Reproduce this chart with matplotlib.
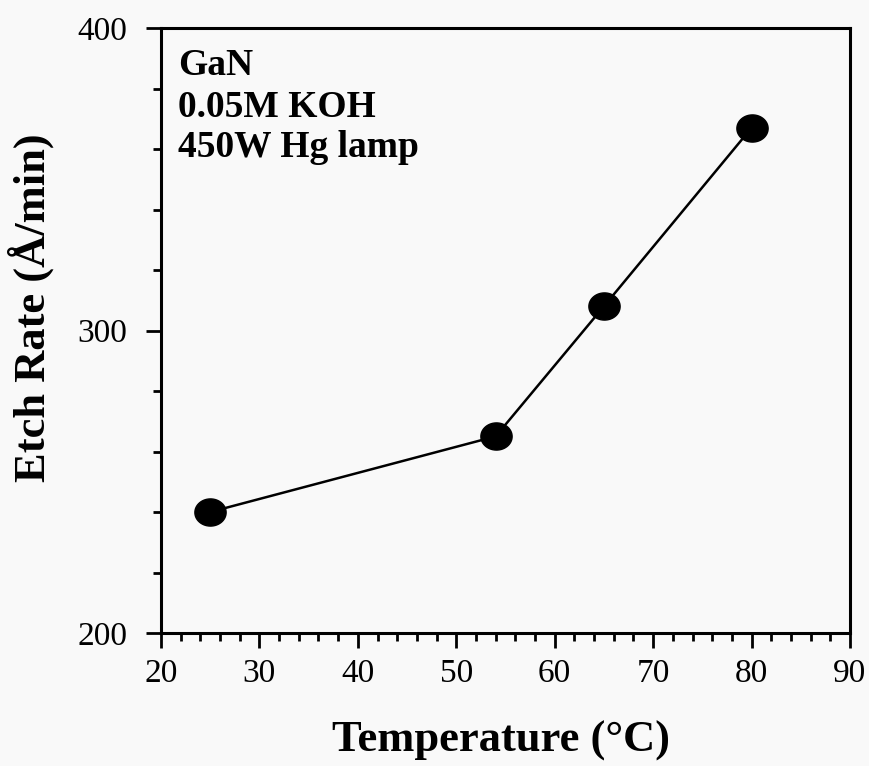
import numpy as np
import matplotlib
matplotlib.use("Agg")
import matplotlib.pyplot as plt
from matplotlib.path import Path
from matplotlib.ticker import MultipleLocator

# Data
temperature = [25, 54, 65, 80]
etch_rate = [240, 265, 308, 367]
x_ticks = [20, 30, 40, 50, 60, 70, 80, 90]
y_ticks = [200, 300, 400]
annotation_lines = ["GaN", "0.05M KOH", "450W Hg lamp"]

SERIF = ["Liberation Serif", "DejaVu Serif"]
plt.rcParams['font.family'] = SERIF

bg = '#f9f9f9'
fig = plt.figure(figsize=(8.69, 7.66), dpi=100, facecolor=bg)
ax = fig.add_axes([161/869, 1-633/766, 689/869, 605/766], facecolor=bg)

# slightly elliptical marker
t = np.linspace(0, 2*np.pi, 60)
ell = Path(np.column_stack([1.15*np.cos(t), np.sin(t)]), closed=True)

ax.plot(temperature, etch_rate, color='black', lw=1.8,
        marker=ell, markersize=22.5, markerfacecolor='black',
        markeredgecolor='black', zorder=3)

ax.set_xlim(20, 90)
ax.set_ylim(200, 400)
ax.set_xticks(x_ticks)
ax.set_yticks(y_ticks)
ax.xaxis.set_minor_locator(MultipleLocator(2))
ax.yaxis.set_minor_locator(MultipleLocator(20))

for s in ax.spines.values():
    s.set_linewidth(2.2)

ax.tick_params(axis='both', which='major', direction='out', length=11,
               width=2.0, labelsize=24, colors='black')
ax.tick_params(axis='both', which='minor', direction='out', length=6,
               width=2.0)
ax.tick_params(axis='x', which='major', pad=7)
ax.tick_params(axis='y', which='major', pad=13)
ax.tick_params(top=False, right=False, which='both')

ax.set_xlabel("Temperature (°C)", fontsize=32, fontweight='bold',
              va='baseline', ha='center')
ax.xaxis.set_label_coords((501-161)/689, (633-752)/605)
ax.set_ylabel("Etch Rate (Å/min)", fontsize=32, fontweight='bold',
              va='center', ha='center')
ax.yaxis.set_label_coords((31-161)/689, (633-308)/605)

baselines_px = [75, 117, 157]
for line, yb in zip(annotation_lines, baselines_px):
    ax.text((178-161)/689, (633-yb)/605, line,
            transform=ax.transAxes, fontsize=27, fontweight='bold',
            va='baseline', ha='left')

fig.savefig("out.png", dpi=100, facecolor=bg)
